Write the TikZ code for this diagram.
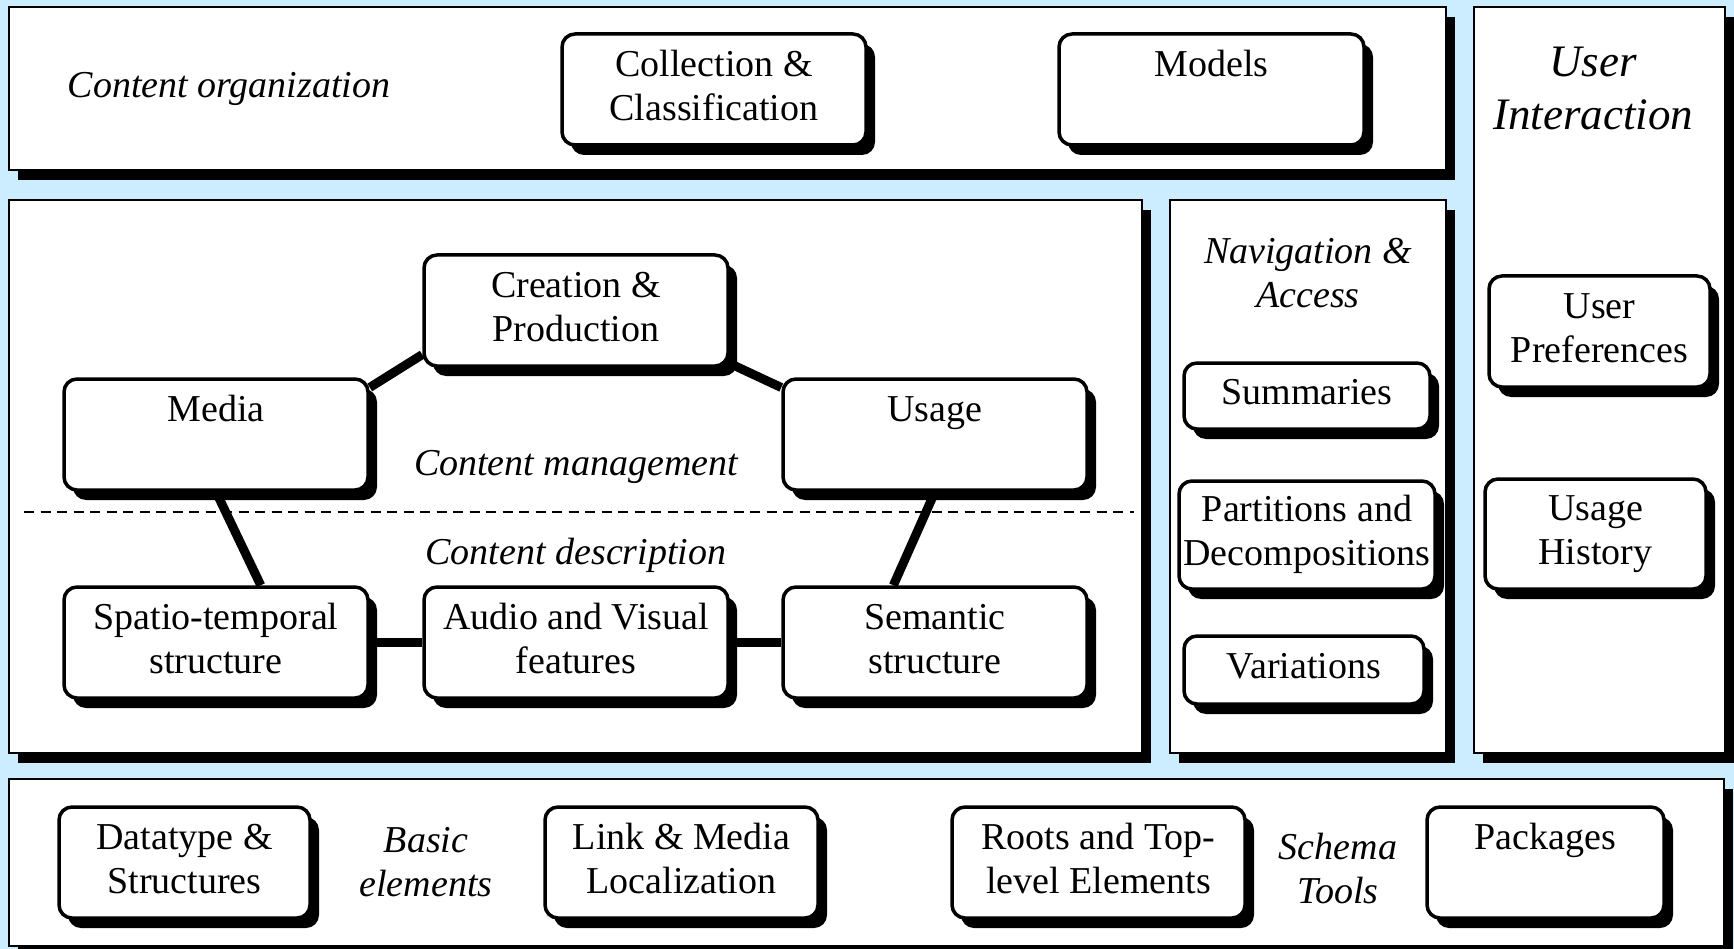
\documentclass[tikz,border=0pt]{standalone}
\usepackage{fontspec}
\setmainfont{Liberation Serif}
\usetikzlibrary{shadows}
\definecolor{bgblue}{RGB}{204,236,255}
\pgfdeclarelayer{bg}
\pgfdeclarelayer{mid}
\pgfsetlayers{bg,mid,main}
\tikzset{
  panel/.style={draw=black, line width=2pt, fill=white, inner sep=0pt,
    drop shadow={shadow xshift=9pt, shadow yshift=-10pt, fill=black, opacity=1}},
  rbox/.style={draw=black, line width=3.5pt, fill=white, rounded corners=13pt,
    align=center, inner sep=0pt, font=\fontsize{38}{44}\selectfont,
    drop shadow={shadow xshift=9pt, shadow yshift=-10pt, fill=black, opacity=1}},
  conn/.style={line width=9pt, draw=black},
  lbl/.style={font=\fontsize{38}{44}\selectfont\itshape, align=center, inner sep=0pt},
  biglbl/.style={font=\fontsize{45}{53}\selectfont\itshape, align=center, inner sep=0pt},
  sepline/.style={line width=2.5pt, dash pattern=on 10pt off 6.5pt},
}
\begin{document}
\begin{tikzpicture}[x=1pt,y=-1pt]
\useasboundingbox (0,0) rectangle (1734,949);
\begin{pgfonlayer}{bg}
  \fill[bgblue] (0,0) rectangle (1734,949);
  \node[panel, minimum width=1437pt, minimum height=163pt] (porg) at (727.5,88.5) {};
  \node[panel, minimum width=1133pt, minimum height=553pt] (pcm) at (575.5,476.5) {};
  \node[panel, minimum width=276pt, minimum height=553pt] (pnav) at (1308,476.5) {};
  \node[panel, minimum width=251pt, minimum height=746pt] (pui) at (1599.5,380) {};
  \node[panel, minimum width=1715pt, minimum height=167pt] (pbot) at (866.5,862.5) {};
  \coordinate (dashL) at (24,512);
  \coordinate (dashR) at (1134,512);
  \draw[sepline] (dashL) -- (dashR);
\end{pgfonlayer}

% content organization
\node[lbl] (tcorg) at (229,89) {Content organization};
\node[rbox, minimum width=304pt, minimum height=111pt] (coll) at (714,89.5) {\strut Collection \&\\\strut Classification};
\node[rbox, minimum width=305pt, minimum height=111pt] (models) at (1211.5,89.5) {\strut Models\\\strut};

% user interaction
\node[biglbl] (tui) at (1593,89) {User\\Interaction};
\node[rbox, minimum width=221pt, minimum height=111pt] (upref) at (1599.5,331.5) {\strut User\\\strut Preferences};
\node[rbox, minimum width=221pt, minimum height=110pt] (uhist) at (1595.5,534) {\strut Usage\\\strut History};

% content management / description
\node[rbox, minimum width=304pt, minimum height=111pt] (creat) at (576,310.5) {\strut Creation \&\\\strut Production};
\node[rbox, minimum width=304pt, minimum height=111pt] (media) at (216,434.5) {\strut Media\\\strut};
\node[rbox, minimum width=304pt, minimum height=111pt] (usage) at (935,434.5) {\strut Usage\\\strut};
\node[lbl] (tcm) at (576,467) {Content management};
\node[lbl] (tcd) at (576,555) {Content description};
\node[rbox, minimum width=304pt, minimum height=111pt] (spatio) at (216,642.5) {\strut Spatio-temporal\\\strut structure};
\node[rbox, minimum width=304pt, minimum height=111pt] (audio) at (576,642.5) {\strut Audio and Visual\\\strut features};
\node[rbox, minimum width=304pt, minimum height=111pt] (sem) at (935,642.5) {\strut Semantic\\\strut structure};

% navigation
\node[lbl] (tnav) at (1308,273) {Navigation \&\\Access};
\node[rbox, minimum width=246pt, minimum height=66pt] (summ) at (1307,396) {\strut Summaries};
\node[rbox, minimum width=256pt, minimum height=108pt] (part) at (1307,535) {\strut Partitions and\\\strut Decompositions};
\node[rbox, minimum width=240pt, minimum height=68pt] (var) at (1304,670) {\strut Variations};

% bottom
\node[rbox, minimum width=251pt, minimum height=111pt] (dtype) at (184.5,862.5) {\strut Datatype \&\\\strut Structures};
\node[lbl] (tbasic) at (426,862) {Basic\\elements};
\node[rbox, minimum width=273pt, minimum height=111pt] (link) at (681.5,862.5) {\strut Link \& Media\\\strut Localization};
\node[rbox, minimum width=293pt, minimum height=111pt] (roots) at (1098.5,862.5) {\strut Roots and Top-\\\strut level Elements};
\node[lbl] (tschema) at (1338,868) {Schema\\Tools};
\node[rbox, minimum width=237pt, minimum height=111pt] (pack) at (1545.5,862.5) {\strut Packages\\\strut};

\begin{pgfonlayer}{mid}
  \draw[conn] (media.17) -- (creat.196);
  \draw[conn] (creat.-19) -- (usage.163);
  \draw[conn] (media.south) -- (spatio.52);
  \draw[conn] (usage.south) -- (sem.126);
  \draw[conn] (spatio.east) -- (audio.west);
  \draw[conn] (audio.east) -- (sem.west);
\end{pgfonlayer}
\end{tikzpicture}
\end{document}
